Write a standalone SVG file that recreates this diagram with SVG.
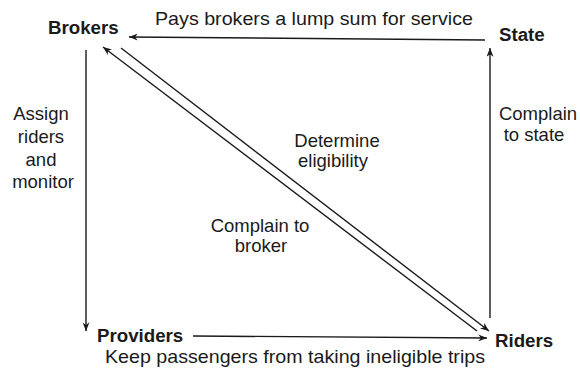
<svg xmlns="http://www.w3.org/2000/svg" width="580" height="375" viewBox="0 0 580 375">
<style>
.node{font-family:"Liberation Sans",Arial,sans-serif;font-size:18.7px;font-weight:bold;fill:#1a1a1a}
.lbl{font-family:"Liberation Sans",Arial,sans-serif;font-size:18.5px;fill:#1a1a1a}
.ln{stroke:#1a1a1a;stroke-width:1.4;fill:none}
</style>
<defs>
<marker id="ah" viewBox="0 0 10 8" refX="10" refY="4" markerWidth="9" markerHeight="7" markerUnits="userSpaceOnUse" orient="auto">
<path d="M0,0 L10,4 L0,8 L3,4 Z" fill="#1a1a1a"/>
</marker>
</defs>
<rect width="580" height="375" fill="#fff"/>
<g id="connectors">
<line class="ln" x1="485" y1="40" x2="129" y2="37" marker-end="url(#ah)"/>
<line class="ln" x1="86" y1="50" x2="86" y2="331" marker-end="url(#ah)"/>
<line class="ln" x1="490" y1="318" x2="490" y2="48" marker-end="url(#ah)"/>
<line class="ln" x1="193" y1="336" x2="487" y2="338" marker-end="url(#ah)"/>
<line class="ln" x1="477" y1="331" x2="103" y2="47" marker-end="url(#ah)"/>
<line class="ln" x1="121" y1="48" x2="489" y2="331" marker-end="url(#ah)"/>
</g>
<g id="brokers"><text class="node" x="48" y="34">Brokers</text></g>
<g id="state"><text class="node" x="499" y="41">State</text></g>
<g id="providers"><text class="node" x="97" y="342">Providers</text></g>
<g id="riders"><text class="node" x="495" y="347">Riders</text></g>
<g id="labels">
<text class="lbl" x="155" y="25" textLength="318" lengthAdjust="spacingAndGlyphs">Pays brokers a lump sum for service</text>
<text class="lbl" x="105" y="363" textLength="380" lengthAdjust="spacingAndGlyphs">Keep passengers from taking ineligible trips</text>
<text class="lbl" text-anchor="middle" x="41" y="120">Assign</text>
<text class="lbl" text-anchor="middle" x="41" y="143">riders</text>
<text class="lbl" text-anchor="middle" x="41" y="166">and</text>
<text class="lbl" text-anchor="middle" x="43" y="188">monitor</text>
<text class="lbl" text-anchor="middle" x="337" y="147">Determine</text>
<text class="lbl" text-anchor="middle" x="333" y="167">eligibility</text>
<text class="lbl" text-anchor="middle" x="260" y="232">Complain to</text>
<text class="lbl" text-anchor="middle" x="261" y="252">broker</text>
<text class="lbl" text-anchor="middle" x="538" y="120">Complain</text>
<text class="lbl" text-anchor="middle" x="534" y="141">to state</text>
</g>
</svg>
